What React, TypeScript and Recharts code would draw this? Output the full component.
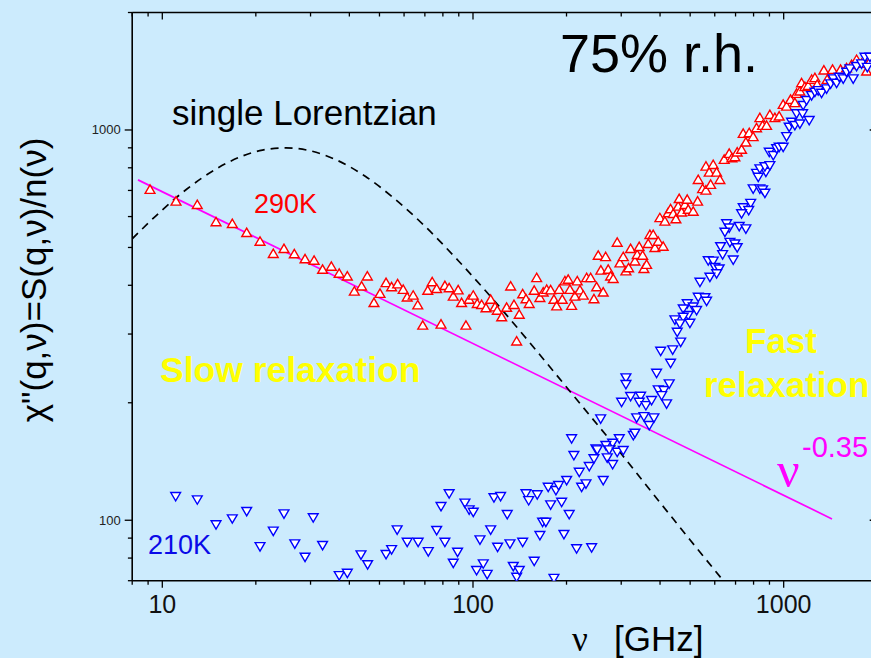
import React from 'react';
import { ComposedChart, Scatter, Line, XAxis, YAxis } from 'recharts';

// ---------------- data ----------------
const redFreq = [
  9.13, 11.07, 12.96, 14.89, 16.8, 18.69, 20.63, 22.76, 24.64, 26.6,
  28.8, 30.8, 32.8, 35.0, 37.1, 39.4, 41.5, 43.8, 45.7, 48.0,
  50.2, 52.5, 54.7, 57.2, 59.6, 61.4, 64.2, 66.4, 68.9, 71.5,
  73.9, 76.4, 78.9, 81.2, 83.8, 86.4, 89.6, 91.9, 94.9, 97.2,
  100.2, 103.2, 106.6, 110.1, 114.0, 117.7, 119.7, 123.7, 128.3, 132.2,
  135.5, 138.2, 140.9, 144.5, 148.1, 151.7, 157.4, 160.3, 164.2, 168.3,
  172.6, 177.8, 182.2, 185.9, 189.5, 193.8, 197.6, 202.5, 205.1, 207.7,
  212.8, 216.5, 220.9, 226.4, 232.1, 239.1, 245.1, 250.0, 253.0, 258.0,
  262.5, 267.2, 272.4, 277.3, 282.7, 291.2, 297.1, 304.5, 310.6, 316.9,
  321.6, 332.0, 337.8, 342.8, 351.6, 354.9, 362.1, 366.4, 371.0, 380.2,
  385.0, 394.6, 399.5, 409.4, 414.6, 424.9, 432.5, 441.0, 449.9, 457.6,
  469.2, 481.0, 492.9, 511.5, 528.4, 461.0, 489.2,
  530.8, 548.3, 562.0, 582.0, 562.0, 575.9, 593.2, 608.3, 623.3, 643.5, 667.8, 681.3, 696.6,
  708.6, 731.9, 740.8, 755.7, 774.4, 797.6, 818.0, 838.2, 855.2, 881.0,
  902.8, 936.9, 967.2, 996.3, 1021.7, 1052.4, 1086.4, 1100.3, 1127.5, 1141.8,
  1170.1, 1199.0, 1229.8, 1260.1, 1281.7, 1347.1, 1380.4, 1436.6, 1486.7, 1524.5,
  1593.8, 1654.0, 1716.5, 1781.3, 1849.0, 1894.6,
];
const redChi = [
  702, 655, 642, 580, 574, 544, 517, 481, 495, 480,
  466, 462, 438, 446, 428, 421, 385, 397, 421, 360,
  380, 405, 395, 402, 389, 372, 376, 355, 315, 387,
  407, 391, 317, 398, 393, 374, 388, 360, 315, 367,
  376, 358, 356, 349, 367, 351, 344, 331, 350, 397,
  356, 287, 336, 379, 368, 358, 387, 417, 371, 383,
  389, 388, 367, 353, 389, 367, 409, 413, 389, 354,
  374, 409, 388, 376, 417, 417, 368, 395, 476, 436,
  383, 472, 438, 421, 415, 514, 455, 472, 434, 442,
  495, 460, 478, 501, 476, 440, 451, 510, 538, 538,
  498, 517, 594, 502, 582, 612, 626, 609, 590, 636,
  614, 642, 624, 617, 655, 665, 662,
  744, 705, 699, 723, 805, 777, 813, 777, 744, 838, 868, 846, 851,
  875, 889, 977, 928, 981, 958, 1010, 1072, 1024, 1024,
  1092, 1072, 1082, 1159, 1147, 1194, 1171, 1237, 1254, 1317,
  1287, 1296, 1343, 1357, 1304, 1419, 1343, 1425, 1375, 1425,
  1439, 1467, 1511, 1476, 1411, 1496,
];

const blueFreq = [
  11.04, 12.96, 14.89, 16.8, 18.69, 20.63, 22.76, 24.64, 26.7, 28.8,
  30.6, 32.8, 37.1, 39.4, 43.6, 45.8, 52.5, 54.7, 57.0, 61.4,
  66.6, 71.8, 76.4, 78.9, 81.2, 83.8, 86.4, 89.2, 94.2, 97.2,
  100.2, 102.7, 105.3, 107.9, 111.1, 114.0, 116.8, 120.0, 122.7, 128.9,
  131.5, 134.8, 138.2, 140.9, 144.5, 148.1, 151.1, 157.4, 161.0, 164.2,
  167.5, 171.6, 174.6, 177.8, 182.2, 184.9, 188.6, 192.9, 196.2, 200.2,
  204.0, 211.2, 215.5, 219.8, 223.7, 231.0, 236.7, 240.9, 245.1, 248.7,
  310.6, 310.6, 389.9, 432.5, 300.8, 321.6, 346.4, 342.8, 360.2, 375.7,
  394.6, 411.6, 428.1, 419.9, 404.7, 336.3, 354.9, 382.2, 369.2, 328.1,
  332.0, 257.6, 207.7, 295.7, 281.5, 267.7, 274.4, 291.2, 304.5, 270.4,
  281.5, 262.5, 251.1, 537.6, 530.8, 557.8, 564.9, 489.2, 475.0, 511.5,
  524.5, 492.9, 475.0, 446.6, 463.4, 499.1, 454.3, 466.1, 439.3, 401.9,
  818.0, 828.2, 876.5, 797.6, 838.2, 855.2, 870.1, 783.1, 740.8, 771.7,
  731.9, 655.2, 667.8, 646.9, 719.3, 755.7, 671.4, 696.6, 708.6, 626.5,
  636.0, 688.0, 571.7, 593.2, 600.6, 620.0, 608.3, 578.8,
  838.2, 870.1, 902.8, 898.6, 925.7, 949.3, 967.2, 996.3, 1021.7, 1041.6, 1060.2, 1086.4,
  1127.5, 1100.3, 1150.3, 1208.2, 1155.4, 1185.0, 1229.8, 1260.1, 1291.5, 1324.3,
  1374.4, 1415.8, 1443.5, 1480.3, 1509.2, 1554.7, 1593.8, 1633.6, 1674.0, 1716.5, 1781.3, 1826.4, 1858.5, 1894.6,
];
const blueChi = [
  115.4, 113.2, 97.7, 101.2, 105.7, 85.9, 94.1, 104.2, 87.3, 80.7,
  101.8, 86.5, 72.4, 73.4, 81.8, 77.2, 82.0, 84.4, 94.8, 88.1,
  88.1, 83.4, 94.5, 108.8, 88.1, 117.3, 77.9, 83.1, 111.0, 106.7,
  105.2, 74.6, 89.4, 77.6, 72.9, 94.8, 114.6, 85.6, 115.4, 103.8,
  87.3, 76.4, 71.7, 74.6, 88.1, 117.3, 112.7, 78.8, 116.6, 91.7,
  99.2, 99.2, 121.9, 109.9, 71.2, 119.6, 123.2, 111.6, 92.3, 126.9,
  103.8, 147.0, 84.8, 133.2, 121.9, 124.4, 137.8, 85.3, 144.2, 152.9,
  232.4, 223.5, 238.9, 253.4, 201.3, 208.2, 208.6, 201.3, 197.4, 203.4,
  216.6, 215.7, 224.4, 199.4, 209.4, 183.6, 185.0, 183.6, 175.5, 165.4,
  167.7, 182.5, 162.3, 162.3, 158.1, 156.0, 152.0, 149.9, 151.4, 145.0,
  139.4, 126.9, 152.0, 408.7, 374, 372.8, 365.3, 360, 349, 353,
  345.8, 336, 332.4, 327.3, 319.7, 320.8, 304.2, 287, 274.2, 272.0,
  777, 759, 782, 709, 709, 705, 691, 651, 634, 624,
  612, 577, 563, 549, 568, 560, 517, 512, 501, 504,
  481, 466, 464, 463, 446, 442, 429.6, 421,
  798, 808, 813, 880, 863, 898, 906, 906, 965, 1020, 1050, 1030,
  1040, 1104, 1104, 1061, 1159, 1194, 1229, 1254, 1266, 1246,
  1279, 1317, 1357, 1322, 1370, 1357, 1411, 1439, 1357, 1459, 1482, 1541, 1452, 1541,
];

// single Lorentzian (dashed curve)
const lorentzFreq = [8, 10, 12, 15, 18, 21, 25, 30, 36, 45, 55, 70, 90, 120, 160, 220, 300, 400, 500, 630];
const lorentzChi = [526, 624, 706, 797, 856, 888, 900, 884, 841, 761, 674, 567, 461, 357, 272, 200, 148, 111, 89, 71];

// power law nu^-0.35 (magenta line), end points
const powerFreq = [8.35, 1431];
const powerChi = [745, 100.8];

const xTicks = [8, 9, 10, 20, 30, 40, 50, 60, 70, 80, 90, 100, 200, 300, 400, 500, 600, 700, 800, 900, 1000, 2000];
const yTicks = [70, 80, 90, 100, 200, 300, 400, 500, 600, 700, 800, 900, 1000, 2000];
const majorTicks = [10, 100, 1000];

const toPoints = (xs: number[], ys: number[]) => xs.map((x, i) => ({ x, y: ys[i] }));
const redData = toPoints(redFreq, redChi);
const blueData = toPoints(blueFreq, blueChi);
const lorentzData = toPoints(lorentzFreq, lorentzChi);
const powerData = toPoints(powerFreq, powerChi);

// ---------------- layout ----------------
const W = 900;
const H = 658;
const PLOT_LEFT = 132.2;
const PLOT_TOP = 12.5;
const PLOT_RIGHT = 877.2;
const PLOT_BOTTOM = 580.7;
const Y_AXIS_W = 100;
const X_AXIS_H = 40;
const BG = '#ccebfd';
const FONT = '"Liberation Sans", Arial, Helvetica, sans-serif';
const isMajor = (v: number) => majorTicks.includes(v);

const BottomTick = (p: any) => {
  const v = p.payload.value;
  const major = isMajor(v);
  return (
    <g>
      <line x1={p.x} x2={p.x} y1={PLOT_BOTTOM} y2={PLOT_BOTTOM + (major ? 7 : 4)} stroke="#000" strokeWidth={1.3} />
      {major && (
        <text x={p.x} y={PLOT_BOTTOM + 32} textAnchor="middle" fontSize={25} fontFamily={FONT} fill="#111">
          {v}
        </text>
      )}
    </g>
  );
};
const TopTick = (p: any) => {
  const major = isMajor(p.payload.value);
  return <line x1={p.x} x2={p.x} y1={PLOT_TOP} y2={PLOT_TOP + (major ? 7 : 4)} stroke="#000" strokeWidth={1.3} />;
};
const LeftTick = (p: any) => {
  const v = p.payload.value;
  const major = isMajor(v);
  return (
    <g>
      <line x1={PLOT_LEFT} x2={PLOT_LEFT - (major ? 7.5 : 4.3)} y1={p.y} y2={p.y} stroke="#000" strokeWidth={1.3} />
      {major && (
        <text x={PLOT_LEFT - 11.5} y={p.y + 4.4} textAnchor="end" fontSize={13} fontFamily={FONT} fill="#222">
          {v}
        </text>
      )}
    </g>
  );
};
const RightTick = (p: any) => {
  const major = isMajor(p.payload.value);
  return <line x1={PLOT_RIGHT} x2={PLOT_RIGHT - (major ? 7.5 : 4.3)} y1={p.y} y2={p.y} stroke="#000" strokeWidth={1.3} />;
};

const UpTri = (p: any) => {
  const { cx, cy } = p;
  if (cx == null || cy == null) return null;
  return (
    <polygon
      points={`${cx},${cy - 5} ${cx - 4.9},${cy + 3.4} ${cx + 4.9},${cy + 3.4}`}
      fill="#ffffff"
      stroke="#ff0000"
      strokeWidth={1.4}
    />
  );
};
const DownTri = (p: any) => {
  const { cx, cy } = p;
  if (cx == null || cy == null) return null;
  return (
    <polygon
      points={`${cx - 4.9},${cy - 3.4} ${cx + 4.9},${cy - 3.4} ${cx},${cy + 5}`}
      fill="#ffffff"
      stroke="#0000ff"
      strokeWidth={1.4}
    />
  );
};

const axisLine = { stroke: '#000', strokeWidth: 1.6 };

export default function App() {
  return (
    <div style={{ position: 'fixed', left: 0, top: 0, width: 871, height: 658, overflow: 'hidden', background: BG }}>
      <div style={{ position: 'absolute', left: 0, top: 0 }}>
        <ComposedChart
          width={W}
          height={H}
          margin={{ top: PLOT_TOP, right: W - PLOT_RIGHT, bottom: H - PLOT_BOTTOM - X_AXIS_H, left: PLOT_LEFT - Y_AXIS_W }}
        >
          <XAxis
            xAxisId="b"
            dataKey="x"
            type="number"
            scale="log"
            domain={[8, 2000]}
            allowDataOverflow
            ticks={xTicks}
            interval={0}
            height={X_AXIS_H}
            tickSize={0}
            tickMargin={0}
            tickLine={false}
            axisLine={axisLine}
            tick={BottomTick}
          />
          <XAxis
            xAxisId="t"
            orientation="top"
            mirror
            dataKey="x"
            type="number"
            scale="log"
            domain={[8, 2000]}
            allowDataOverflow
            ticks={xTicks}
            interval={0}
            height={20}
            tickSize={0}
            tickMargin={0}
            tickLine={false}
            axisLine={axisLine}
            tick={TopTick}
          />
          <YAxis
            yAxisId="l"
            dataKey="y"
            type="number"
            scale="log"
            domain={[70, 2000]}
            allowDataOverflow
            ticks={yTicks}
            interval={0}
            width={Y_AXIS_W}
            tickSize={0}
            tickMargin={0}
            tickLine={false}
            axisLine={axisLine}
            tick={LeftTick}
          />
          <YAxis
            yAxisId="r"
            orientation="right"
            mirror
            dataKey="y"
            type="number"
            scale="log"
            domain={[70, 2000]}
            allowDataOverflow
            ticks={yTicks}
            interval={0}
            width={20}
            tickSize={0}
            tickMargin={0}
            tickLine={false}
            axisLine={axisLine}
            tick={RightTick}
          />
          <Scatter xAxisId="b" yAxisId="l" data={redData} shape={UpTri} isAnimationActive={false} />
          <Scatter xAxisId="b" yAxisId="l" data={blueData} shape={DownTri} isAnimationActive={false} />
          <Line
            xAxisId="b"
            yAxisId="l"
            data={powerData}
            dataKey="y"
            type="linear"
            stroke="#ff00ff"
            strokeWidth={1.7}
            dot={false}
            activeDot={false}
            isAnimationActive={false}
          />
          <Line
            xAxisId="b"
            yAxisId="l"
            data={lorentzData}
            dataKey="y"
            type="monotone"
            stroke="#000"
            strokeWidth={1.7}
            strokeDasharray="8 6"
            dot={false}
            activeDot={false}
            isAnimationActive={false}
          />
        </ComposedChart>
      </div>
      <svg
        width={871}
        height={658}
        style={{ position: 'absolute', left: 0, top: 0, pointerEvents: 'none' }}
        fontFamily={FONT}
      >
        <text x={560} y={72} fontSize={54} fill="#000">75% r.h.</text>
        <text x={172} y={125} fontSize={35} fill="#000">single Lorentzian</text>
        <text x={254} y={213} fontSize={27} fill="#ff0000">290K</text>
        <text x={148} y={554} fontSize={27} fill="#0a0ae8">210K</text>
        <text x={160} y={382} fontSize={35.5} fontWeight="bold" fill="#ffff00">Slow relaxation</text>
        <text x={745} y={353} fontSize={35} fontWeight="bold" fill="#ffff00">Fast</text>
        <text x={704} y={397} fontSize={35} fontWeight="bold" fill="#ffff00">relaxation</text>
        <text x={777} y={487} fontSize={50} fill="#ff00ff" fontFamily='"Liberation Serif", "DejaVu Serif", serif'>ν</text>
        <text x={802} y={457} fontSize={29} fill="#ff00ff">-0.35</text>
        <text x={572} y={651} fontSize={35} fill="#000">
          <tspan fontFamily='"Liberation Serif", serif'>ν</tspan>
          <tspan x={614}>[GHz]</tspan>
        </text>
        <text
          x={46}
          y={280}
          fontSize={35}
          fill="#000"
          textAnchor="middle"
          transform="rotate(-90 46 280)"
        >
          χ"(q,ν)=S(q,ν)/n(ν)
        </text>
      </svg>
    </div>
  );
}
